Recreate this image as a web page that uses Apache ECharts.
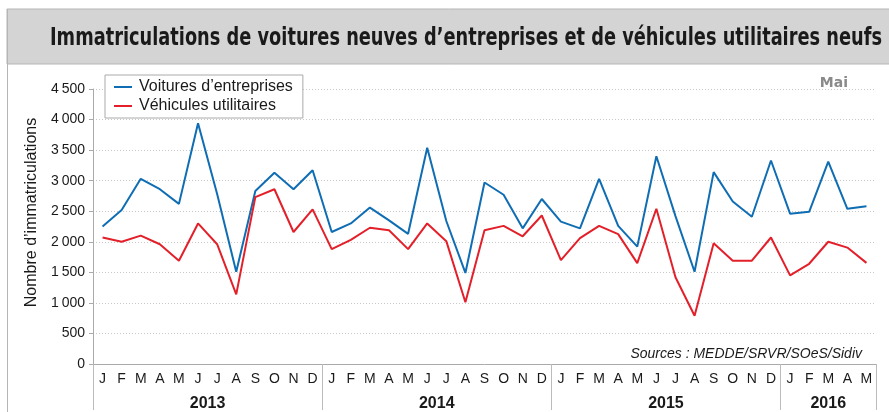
<!DOCTYPE html>
<html>
<head>
<meta charset="utf-8">
<script src="https://cdn.jsdelivr.net/npm/echarts@6/dist/echarts.min.js"></script>
<style>
  html, body { margin: 0; padding: 0; background: #fff; }
  #main { width: 889px; height: 412px; }
</style>
</head>
<body>
<div id="main"></div>
<script>
// données mensuelles janvier 2013 -> mai 2016
var mois = ["J", "F", "M", "A", "M", "J", "J", "A", "S", "O", "N", "D"];
var annees = ["2013", "2014", "2015", "2016"];
var moisParAnnee = [12, 12, 12, 5];

var voitures = [2250, 2520, 3030, 2860, 2620, 3940, 2780, 1510, 2830, 3130, 2860, 3170,
  2160, 2300, 2560, 2350, 2130, 3540, 2340, 1490, 2970, 2770, 2220, 2700,
  2330, 2220, 3030, 2260, 1920, 3400, 2420, 1510, 3140, 2660, 2410, 3330,
  2460, 2490, 3310, 2540, 2580];
var utilitaires = [2070, 2000, 2100, 1960, 1690, 2300, 1960, 1140, 2730, 2860, 2160, 2530,
  1880, 2030, 2230, 2190, 1880, 2300, 2010, 1010, 2190, 2260, 2090, 2430,
  1700, 2060, 2260, 2125, 1650, 2540, 1420, 790, 1975, 1690, 1690, 2070,
  1450, 1640, 2000, 1905, 1655];

var yTicks = [0, 500, 1000, 1500, 2000, 2500, 3000, 3500, 4000, 4500];

// categories + bornes des années
var categories = [];
var bornes = [0];
var centres = [];
var total = 0;
for (var a = 0; a < annees.length; a++) {
  for (var m = 0; m < moisParAnnee[a]; m++) categories.push(mois[m]);
  centres.push(total + moisParAnnee[a] / 2);
  total += moisParAnnee[a];
  bornes.push(total);
}

var font = "'Liberation Sans', Arial, sans-serif";

// titre en police étroite : on mesure puis on tasse en largeur
var titre = "Immatriculations de voitures neuves d\u2019entreprises et de véhicules utilitaires neufs";
var titreFont = "bold 25px 'DejaVu Sans Condensed', 'DejaVu Sans', sans-serif";
var ctx = document.createElement("canvas").getContext("2d");
ctx.font = titreFont;
var titreScale = 832 / ctx.measureText(titre).width;

var option = {
  animation: false,
  backgroundColor: "#fff",
  graphic: [
    {
      type: "rect",
      z: -1,
      shape: { x: 7, y: 9, width: 890, height: 55 },
      style: { fill: "#d4d4d5", stroke: "#b5b5b5", lineWidth: 1 }
    },
    {
      type: "line",
      shape: { x1: 7.5, y1: 9, x2: 7.5, y2: 412 },
      style: { stroke: "#b5b5b5", lineWidth: 1 }
    },
    {
      type: "text",
      x: 50,
      y: 38,
      scaleX: titreScale,
      style: { text: titre, fill: "#1a1a1a", font: titreFont, verticalAlign: "middle" }
    },
    {
      type: "text",
      right: 41,
      top: 76,
      style: { text: "Mai", fill: "#8a8a8a", font: "bold 14px 'DejaVu Sans', sans-serif" }
    },
    {
      type: "text",
      right: 27,
      top: 347,
      style: { text: "Sources : MEDDE/SRVR/SOeS/Sidiv", fill: "#1a1a1a", font: "italic 14px " + font }
    }
  ],
  legend: {
    left: 105,
    top: 75,
    orient: "vertical",
    icon: "rect",
    itemWidth: 18,
    itemHeight: 2,
    itemGap: 3,
    padding: [4, 10, 4, 9],
    backgroundColor: "#fff",
    borderColor: "#aaa",
    borderWidth: 1,
    textStyle: { fontFamily: font, fontSize: 16, color: "#1a1a1a", padding: [0, 0, 0, 2] }
  },
  grid: { left: 93, right: 13, top: 89, bottom: 46, containLabel: false },
  xAxis: [
    {
      type: "category",
      data: categories,
      boundaryGap: true,
      axisLine: { lineStyle: { color: "#aaa", width: 1 } },
      axisTick: { interval: 0, length: 10, lineStyle: { color: "#bbb" } },
      axisLabel: { interval: 0, margin: 8, fontFamily: font, fontSize: 14, color: "#1a1a1a" }
    },
    {
      type: "value",
      position: "bottom",
      min: 0,
      max: total,
      axisLine: { show: false },
      splitLine: { show: false },
      axisTick: { show: true, customValues: bornes, length: 46, lineStyle: { color: "#bbb" } },
      axisLabel: {
        customValues: centres,
        margin: 32,
        fontFamily: font,
        fontSize: 16,
        fontWeight: "bold",
        color: "#1a1a1a",
        formatter: function (v) { return annees[centres.indexOf(v)]; }
      }
    }
  ],
  yAxis: {
    type: "value",
    min: 0,
    max: 4500,
    interval: 500,
    name: "Nombre d\u2019immatriculations",
    nameLocation: "middle",
    nameGap: 53,
    nameTextStyle: { fontFamily: font, fontSize: 16, color: "#1a1a1a", padding: [0, 0, 0, 28] },
    axisLine: { show: true, lineStyle: { color: "#aaa" } },
    axisTick: { show: true, length: 4, lineStyle: { color: "#aaa" } },
    axisLabel: {
      margin: 8,
      fontFamily: font,
      fontSize: 14,
      color: "#1a1a1a",
      formatter: function (v) {
        return yTicks.indexOf(v) >= 0 ? String(v).replace(/\B(?=(\d{3})+(?!\d))/g, "\u2009") : "";
      }
    },
    splitLine: { lineStyle: { color: "#c8c8c8", type: [1, 2] } }
  },
  series: [
    {
      name: "Voitures d\u2019entreprises",
      type: "line",
      data: voitures,
      symbol: "none",
      lineStyle: { color: "#0f6db3", width: 2 },
      itemStyle: { color: "#0f6db3" }
    },
    {
      name: "Véhicules utilitaires",
      type: "line",
      data: utilitaires,
      symbol: "none",
      lineStyle: { color: "#e3202a", width: 2 },
      itemStyle: { color: "#e3202a" }
    }
  ]
};

var myChart = echarts.init(document.getElementById("main"));
myChart.setOption(option);
window.addEventListener("resize", function () {
  myChart.resize();
});
</script>
</body>
</html>
